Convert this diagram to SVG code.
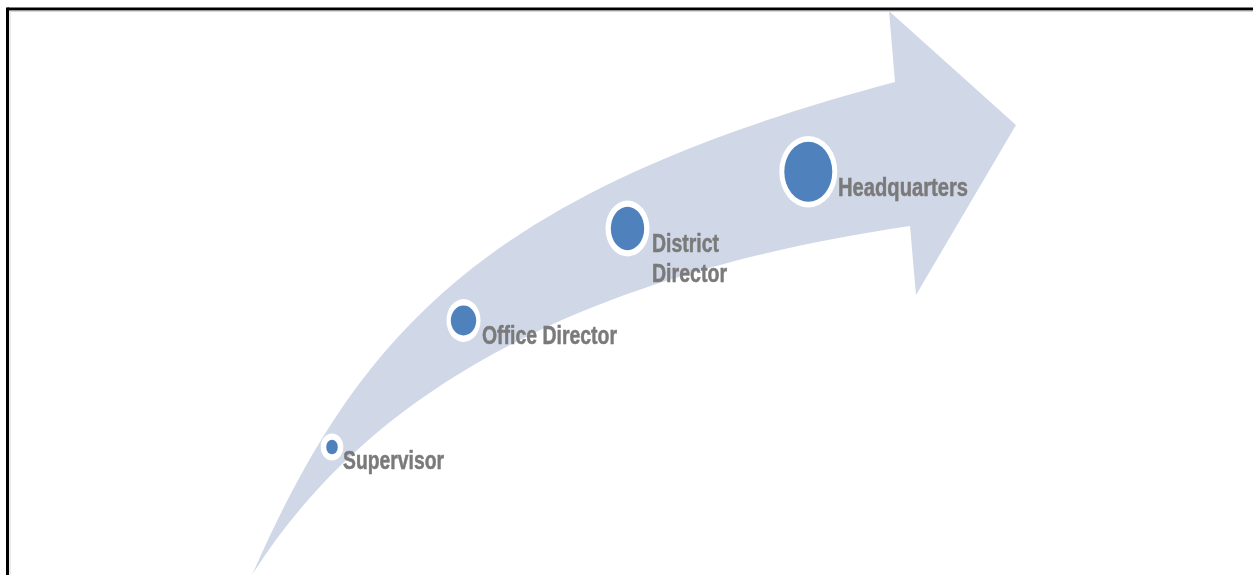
<svg xmlns="http://www.w3.org/2000/svg" width="1253" height="575" viewBox="0 0 1253 575">
  <style>
    .lbl { font-family: "Liberation Sans", Arial, sans-serif; font-weight: bold; font-size: 25px; fill: #7a7a7a; stroke: #7a7a7a; stroke-width: 0.5px; }
    .ring { fill: #ffffff; }
    .dot { fill: #4f81bd; }
  </style>
  <defs>
    <filter id="soft" x="-5%" y="-20%" width="110%" height="140%">
      <feGaussianBlur stdDeviation="0.5"/>
    </filter>
  </defs>
  <rect x="0" y="0" width="1253" height="575" fill="#ffffff"/>
  <g id="frame">
    <line x1="7.5" y1="9" x2="1253" y2="9" stroke="#000000" stroke-width="3"/>
    <line x1="7.5" y1="7.5" x2="7.5" y2="575" stroke="#000000" stroke-width="3"/>
    <line x1="10" y1="11" x2="1253" y2="11" stroke="#b0b0b0" stroke-width="1"/>
    <line x1="10" y1="11" x2="10" y2="575" stroke="#d8d8d8" stroke-width="1"/>
  </g>
  <g id="connectors">
    <path id="arrow" d="M252,575 C361,327 490,190 895,82 L889,11 L1016,125 L916,295 L910,226 C535,281 350,420 252,575 Z" fill="#d0d8e8"/>
  </g>
  <g id="node-supervisor">
    <ellipse class="ring" cx="332" cy="447" rx="11.3" ry="13.5"/>
    <ellipse class="dot" cx="332" cy="447" rx="5.8" ry="7.3"/>
    <text class="lbl" x="343" y="468.5" textLength="101" lengthAdjust="spacingAndGlyphs" filter="url(#soft)">Supervisor</text>
  </g>
  <g id="node-office-director">
    <ellipse class="ring" cx="463.5" cy="320.5" rx="17" ry="21.5"/>
    <ellipse class="dot" cx="463.5" cy="320.5" rx="12.7" ry="15"/>
    <text class="lbl" x="482" y="343.5" textLength="135" lengthAdjust="spacingAndGlyphs" filter="url(#soft)">Office Director</text>
  </g>
  <g id="node-district-director">
    <ellipse class="ring" cx="627.5" cy="228.5" rx="22" ry="28"/>
    <ellipse class="dot" cx="627.5" cy="228.5" rx="16.7" ry="21.7"/>
    <text class="lbl" x="652" y="252" textLength="67" lengthAdjust="spacingAndGlyphs" filter="url(#soft)">District</text>
    <text class="lbl" x="652" y="282" textLength="75" lengthAdjust="spacingAndGlyphs" filter="url(#soft)">Director</text>
  </g>
  <g id="node-headquarters">
    <ellipse class="ring" cx="808.3" cy="171.7" rx="29" ry="35.7"/>
    <ellipse class="dot" cx="808.3" cy="171.7" rx="24" ry="30"/>
    <text class="lbl" x="838" y="195.5" textLength="130" lengthAdjust="spacingAndGlyphs" filter="url(#soft)">Headquarters</text>
  </g>
</svg>
